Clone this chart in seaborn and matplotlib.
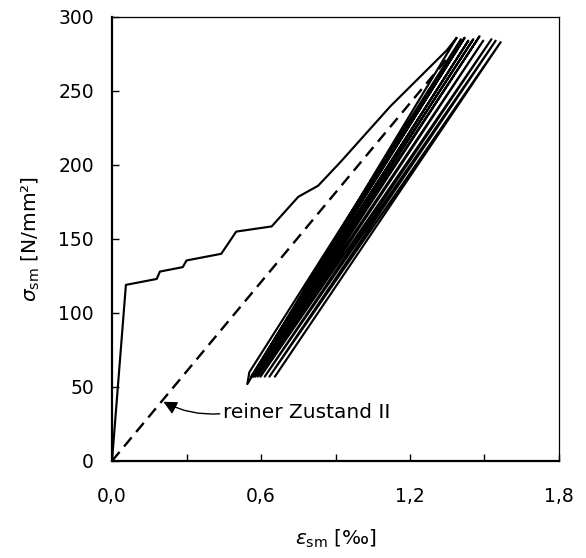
import matplotlib
matplotlib.use("Agg")
import matplotlib.pyplot as plt
from matplotlib.ticker import MultipleLocator, FixedLocator
import numpy as np
import pandas as pd
import seaborn as sns

# Initial loading branch (strain in per mille, stress in N/mm²)
load_eps = [0.0, 0.056, 0.18, 0.193, 0.285, 0.30, 0.44, 0.50, 0.643, 0.75, 0.83, 0.92, 1.12, 1.348, 1.388]
load_sig = [0.0, 119.0, 123.0, 128.0, 131.0, 135.5, 140.0, 155.0, 158.5, 178.5, 186.0, 202.0, 239.5, 277.5, 286.0]

# Load cycles: upper and lower reversal points
top_eps = [1.388, 1.405, 1.420, 1.435, 1.455, 1.480, 1.495, 1.528, 1.545, 1.565]
top_sig = [286.0, 285.0, 286.0, 284.0, 285.0, 287.0, 284.0, 285.0, 284.0, 283.0]
bot_eps = [0.553, 0.560, 0.565, 0.570, 0.577, 0.587, 0.598, 0.615, 0.634, 0.656]
bot_sig = [58.0, 57.0, 57.0, 57.0, 57.0, 57.0, 57.0, 57.0, 57.0, 57.0]

# End of the first unloading branch, dropping slightly below the lower load level
tail_eps = [0.545, 0.553]
tail_sig = [52.0, 60.0]

# Pure cracked state (Zustand II) reference line
z2_eps = [0.0, 1.35]
z2_sig = [0.0, 272.0]

x_ticks = [0.0, 0.6, 1.2, 1.8]
x_tick_labels = ["0,0", "0,6", "1,2", "1,8"]
y_ticks = [0, 50, 100, 150, 200, 250, 300]

# Build the cyclic path: top -> bottom -> next top ...
cyc_eps, cyc_sig = [], []
for i in range(len(top_eps)):
    cyc_eps.append(top_eps[i])
    cyc_sig.append(top_sig[i])
    if i == 0:
        cyc_eps += tail_eps
        cyc_sig += tail_sig
    else:
        cyc_eps.append(bot_eps[i])
        cyc_sig.append(bot_sig[i])

path = pd.DataFrame({
    "eps": load_eps + cyc_eps,
    "sig": load_sig + cyc_sig,
})
z2 = pd.DataFrame({"eps": z2_eps, "sig": z2_sig})

sns.set_style("white")
plt.rcParams["font.family"] = ["DejaVu Sans"]
plt.rcParams["mathtext.fontset"] = "dejavusans"
plt.rcParams["text.color"] = "black"
plt.rcParams["axes.labelcolor"] = "black"

fig = plt.figure(figsize=(5.86, 5.58), dpi=100)
ax = fig.add_axes([112 / 586, 97 / 558, 447 / 586, 444 / 558])

sns.lineplot(data=z2, x="eps", y="sig", sort=False, estimator=None,
             color="black", linewidth=1.7, ax=ax)
ax.lines[-1].set_dashes((5, 3))
sns.lineplot(data=path, x="eps", y="sig", sort=False, estimator=None,
             color="black", linewidth=1.55, ax=ax)

ax.set_xlim(0, 1.8)
ax.set_ylim(0, 300)
ax.xaxis.set_major_locator(FixedLocator(x_ticks))
ax.set_xticklabels(x_tick_labels)
ax.xaxis.set_minor_locator(MultipleLocator(0.3))
ax.yaxis.set_major_locator(FixedLocator(y_ticks))

ax.tick_params(axis="both", which="both", direction="in", length=5,
               width=1.0, colors="black", labelsize=13.5)
ax.tick_params(axis="x", which="both", pad=19, bottom=True, top=False)
ax.tick_params(axis="y", which="both", pad=13, left=True, right=False)

for side in ["left", "bottom"]:
    ax.spines[side].set_linewidth(1.6)
    ax.spines[side].set_color("black")
for side in ["top", "right"]:
    ax.spines[side].set_linewidth(0.9)
    ax.spines[side].set_color("black")
    ax.spines[side].set_visible(True)

ax.set_xlabel(r"$\varepsilon_{\mathrm{sm}}$ [‰]", fontsize=14.5, labelpad=15)
ax.set_ylabel(r"$\sigma_{\mathrm{sm}}$ [N/mm²]", fontsize=14.5, labelpad=12)

ax.annotate("reiner Zustand II", xy=(0.207, 40), xytext=(0.447, 29),
            textcoords="data", ha="left", va="baseline", fontsize=14.5,
            color="black",
            arrowprops=dict(arrowstyle="-|>", color="black", lw=1.0,
                            mutation_scale=20,
                            connectionstyle="arc3,rad=-0.15",
                            shrinkA=0, shrinkB=0,
                            relpos=(0.0, 0.45)))

fig.savefig("out.png", dpi=100, facecolor="white")
